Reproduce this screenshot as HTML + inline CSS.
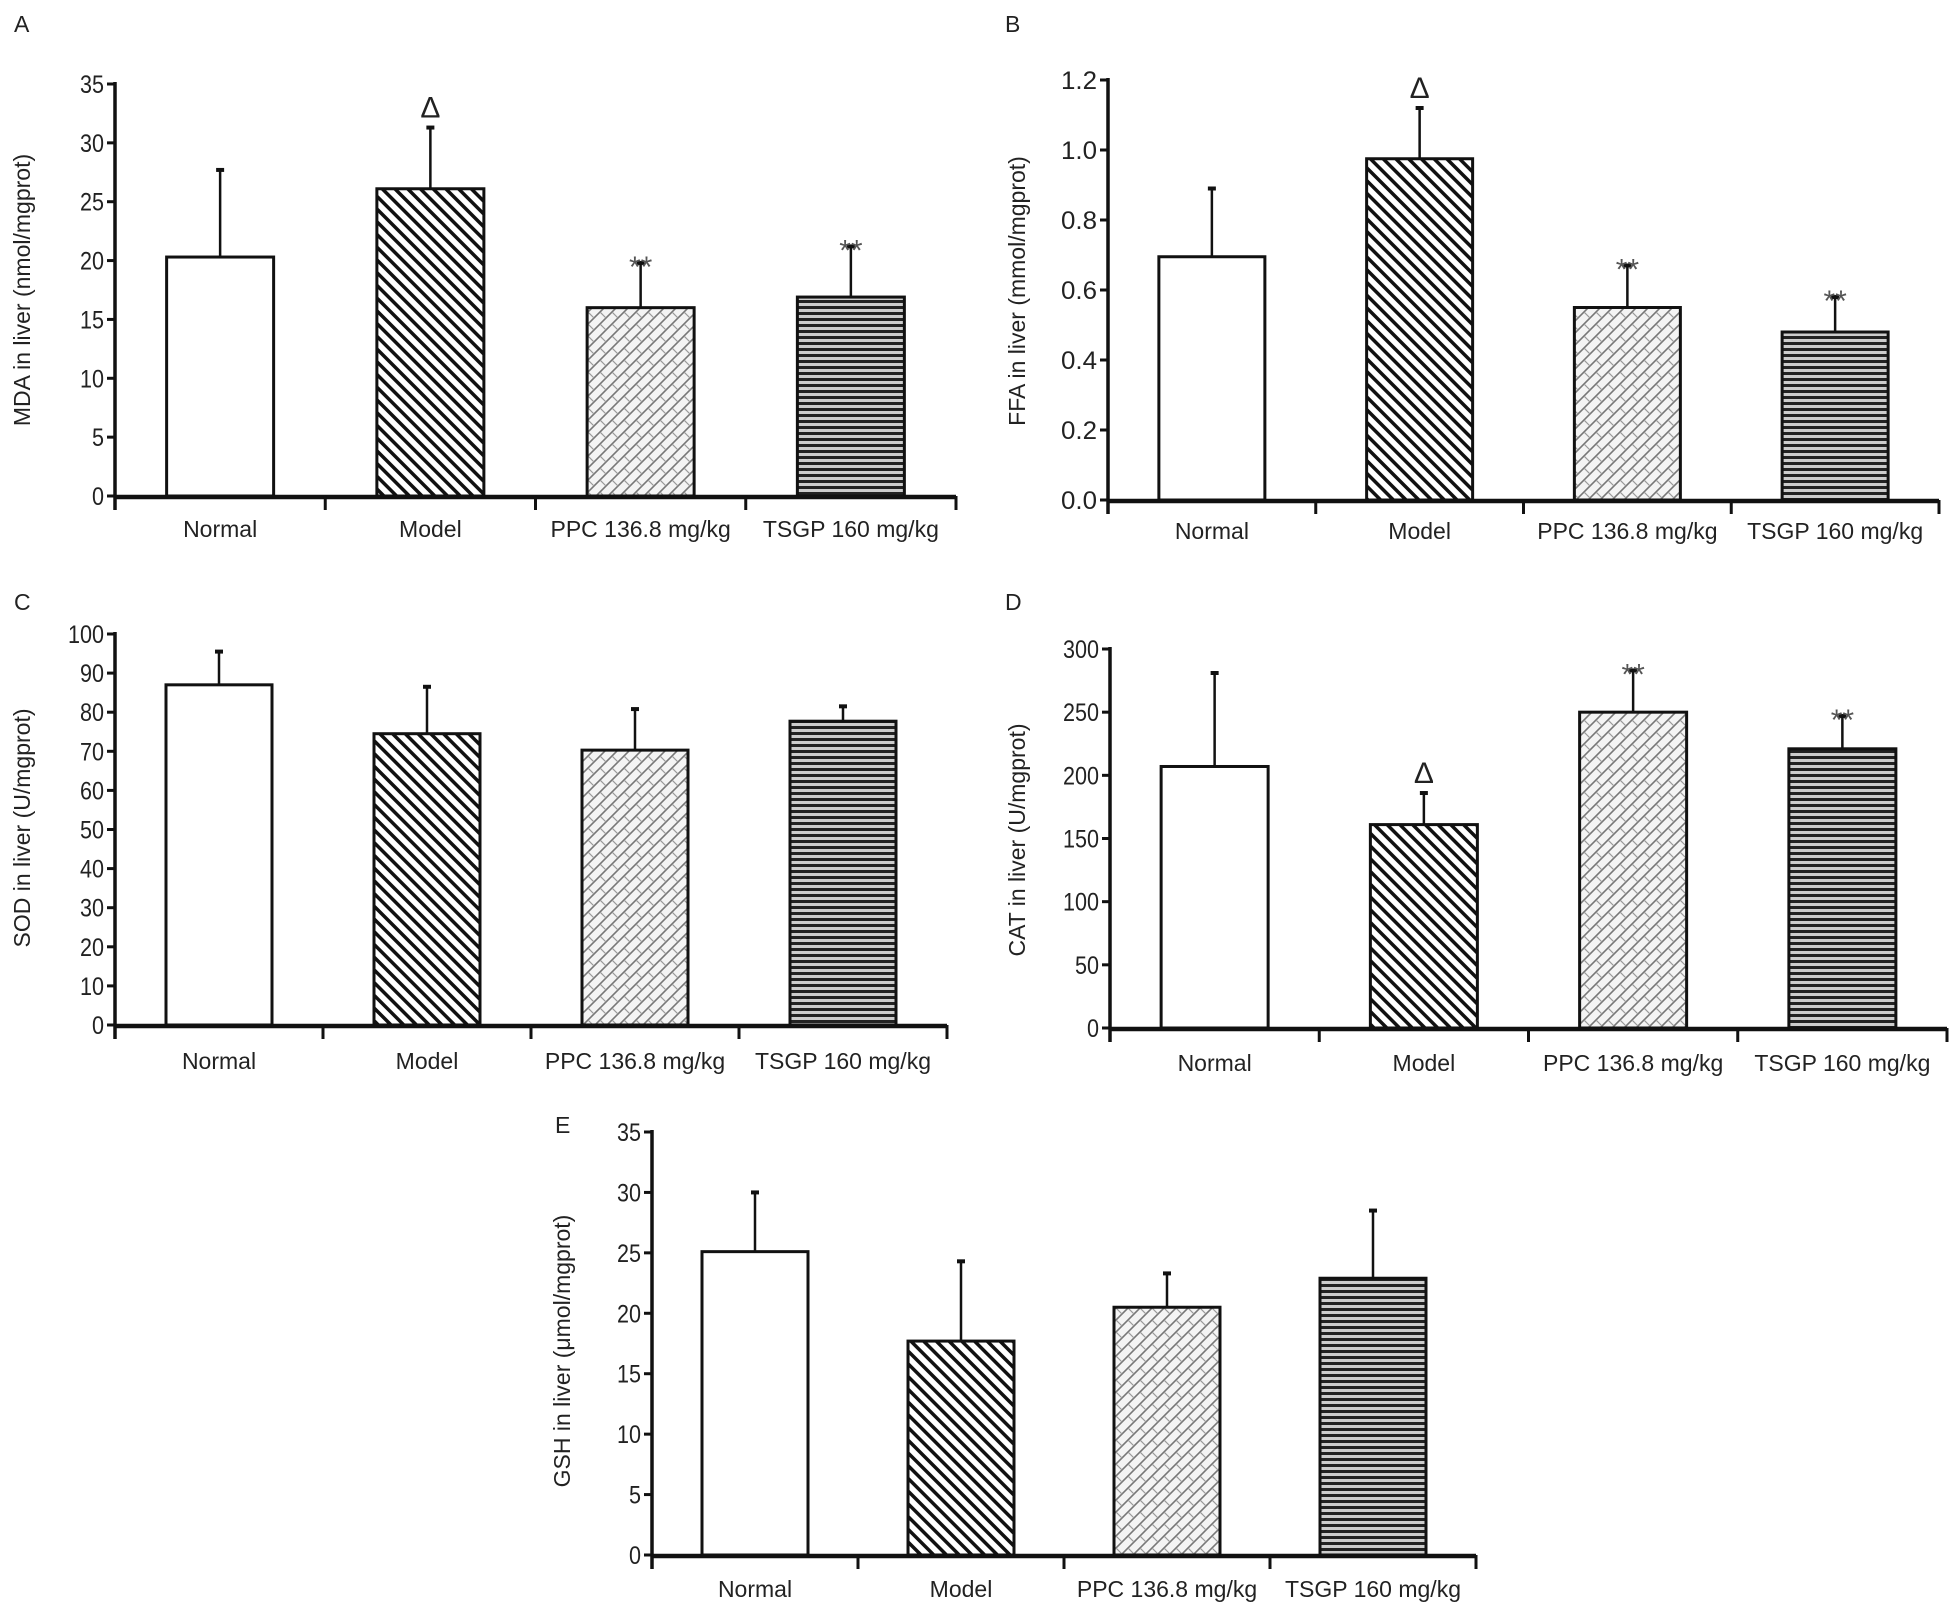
<!DOCTYPE html>
<html><head><meta charset="utf-8">
<style>
html,body{margin:0;padding:0;background:#fff;}
svg{display:block;font-family:"Liberation Sans",Arial,sans-serif;}
</style></head>
<body>
<svg id="fig" width="1956" height="1615" viewBox="0 0 1956 1615">
<defs>
<pattern id="pDiag" patternUnits="userSpaceOnUse" width="9" height="9" patternTransform="rotate(-45)">
<rect width="9" height="9" fill="#fff"/><rect x="0" y="0" width="3.5" height="9" fill="#111"/>
</pattern>
<pattern id="pCross" patternUnits="userSpaceOnUse" width="12" height="12">
<rect width="12" height="12" fill="#f4f4f4"/>
<path d="M0 12 L12 0 M-3 3 L3 -3 M9 15 L15 9" stroke="#777" stroke-width="1.6"/>
<path d="M0 0 L6 6" stroke="#999" stroke-width="1.2"/>
</pattern>
<pattern id="pHoriz" patternUnits="userSpaceOnUse" width="10" height="6">
<rect width="10" height="6" fill="#ccc"/><rect y="0" width="10" height="3" fill="#222"/>
</pattern>
</defs>
</svg>
<script>
const categories = ["Normal","Model","PPC 136.8 mg/kg","TSGP 160 mg/kg"];
const fills = ["#fff","url(#pDiag)","url(#pCross)","url(#pHoriz)"];

const mdaValues = [20.3, 26.1, 16.0, 16.9];
const mdaErrTop = [27.7, 31.3, 19.8, 21.2];
const mdaTicks = [0,5,10,15,20,25,30,35];
const mdaMarks = ["","Δ","**","**"];

const ffaValues = [0.695, 0.975, 0.55, 0.48];
const ffaErrTop = [0.89, 1.12, 0.67, 0.58];
const ffaTicks = ["0.0","0.2","0.4","0.6","0.8","1.0","1.2"];
const ffaMarks = ["","Δ","**","**"];

const sodValues = [87, 74.5, 70.3, 77.7];
const sodErrTop = [95.5, 86.5, 80.8, 81.5];
const sodTicks = [0,10,20,30,40,50,60,70,80,90,100];
const sodMarks = ["","","",""];

const catValues = [207, 161, 250, 221];
const catErrTop = [281, 186, 283, 247];
const catTicks = [0,50,100,150,200,250,300];
const catMarks = ["","Δ","**","**"];

const gshValues = [25.1, 17.7, 20.5, 22.9];
const gshErrTop = [30.0, 24.3, 23.3, 28.5];
const gshTicks = [0,5,10,15,20,25,30,35];
const gshMarks = ["","","",""];

const NS = "http://www.w3.org/2000/svg";
const svg = document.getElementById("fig");
function mk(tag, attrs, parent){
  const e = document.createElementNS(NS, tag);
  for (const k in attrs) e.setAttribute(k, attrs[k]);
  (parent||svg).appendChild(e);
  return e;
}

function panel(cfg){
  const g = mk("g", {});
  
  
  const ticks = cfg.ticks;
  const yMax = parseFloat(ticks[ticks.length-1]);
  const y = v => cfg.y0 - (v / yMax) * (cfg.y0 - cfg.yTop);
  const catW = (cfg.xEnd - cfg.x0) / categories.length;
  const xc = i => cfg.x0 + catW * (i + 0.5);
  const bw = cfg.bw;

  const L = mk("text", {x: cfg.lx, y: cfg.ly, "font-size": 23, fill: "#222"}, g);
  L.textContent = cfg.letter;
  
  

  const yt = mk("text", {x: 0, y: 0, "font-size": 23, fill: "#222", "text-anchor": "middle",
    transform: `translate(${cfg.tx},${cfg.ty}) rotate(-90)`}, g);
  yt.textContent = cfg.title;
  
  

  cfg.values.forEach((v, i) => {
    const r = mk("rect", {x: xc(i) - bw/2, y: y(v), width: bw, height: cfg.y0 - y(v),
      fill: fills[i], stroke: "#111", "stroke-width": 3}, g);
    
    
    const e = mk("line", {x1: xc(i), x2: xc(i), y1: y(v), y2: y(cfg.err[i]), stroke: "#111", "stroke-width": 2.5}, g);
    
    
    const c = mk("line", {x1: xc(i)-4, x2: xc(i)+4, y1: y(cfg.err[i]), y2: y(cfg.err[i]), stroke: "#111", "stroke-width": 4}, g);
    
    
    if (cfg.marks[i]) {
      const isTri = cfg.marks[i] === "Δ";
      const m = mk("text", {x: xc(i), y: y(cfg.err[i]) + (isTri ? -10 : 14), "text-anchor": "middle",
        "font-size": isTri ? 30 : 30, fill: isTri ? "#222" : "#555"}, g);
      m.textContent = cfg.marks[i];
      
      
    }
    const t = mk("text", {x: xc(i), y: cfg.ly2, "text-anchor": "middle", "font-size": 23, fill: "#222"}, g);
    t.textContent = categories[i];
    
    
  });

  const ya = mk("line", {x1: cfg.x0, x2: cfg.x0, y1: cfg.yTop - 2, y2: cfg.y0 + 14, stroke: "#111", "stroke-width": 3.5}, g);
  
  
  const xa = mk("line", {x1: cfg.x0, x2: cfg.xEnd, y1: cfg.y0 + 1, y2: cfg.y0 + 1, stroke: "#111", "stroke-width": 4.5}, g);
  
  
  for (let k = 0; k <= categories.length; k++) {
    const xx = cfg.x0 + catW * k;
    const tk = mk("line", {x1: xx, x2: xx, y1: cfg.y0, y2: cfg.y0 + 14, stroke: "#111", "stroke-width": 3}, g);
    
    
  }
  ticks.forEach(tv => {
    const yy = y(parseFloat(tv));
    const tk = mk("line", {x1: cfg.x0 - 8, x2: cfg.x0, y1: yy, y2: yy, stroke: "#111", "stroke-width": 3}, g);
    
    
    const tl = mk("text", {x: cfg.x0 - 11, y: yy + 9, "text-anchor": "end", "font-size": 25, fill: "#222",
      "textLength": String(tv).length * 12, "lengthAdjust": "spacingAndGlyphs"}, g);
    tl.textContent = tv;
    
    
  });
}

panel({letter:"A", title:"MDA in liver (nmol/mgprot)", values:mdaValues, err:mdaErrTop, ticks:mdaTicks, marks:mdaMarks,
  x0:115, xEnd:956, yTop:84, y0:496, bw:107, lx:14, ly:32, tx:30, ty:290, ly2:537});
panel({letter:"B", title:"FFA in liver (mmol/mgprot)", values:ffaValues, err:ffaErrTop, ticks:ffaTicks, marks:ffaMarks,
  x0:1108, xEnd:1939, yTop:80, y0:500, bw:106, lx:1005, ly:32, tx:1025, ty:291, ly2:539});
panel({letter:"C", title:"SOD in liver (U/mgprot)", values:sodValues, err:sodErrTop, ticks:sodTicks, marks:sodMarks,
  x0:115, xEnd:947, yTop:634, y0:1025, bw:106, lx:14, ly:610, tx:30, ty:828, ly2:1069});
panel({letter:"D", title:"CAT in liver (U/mgprot)", values:catValues, err:catErrTop, ticks:catTicks, marks:catMarks,
  x0:1110, xEnd:1947, yTop:649, y0:1028, bw:107, lx:1005, ly:610, tx:1025, ty:840, ly2:1071});
panel({letter:"E", title:"GSH in liver (μmol/mgprot)", values:gshValues, err:gshErrTop, ticks:gshTicks, marks:gshMarks,
  x0:652, xEnd:1476, yTop:1132, y0:1555, bw:106, lx:555, ly:1133, tx:570, ty:1351, ly2:1597});
</script>
</body></html>
